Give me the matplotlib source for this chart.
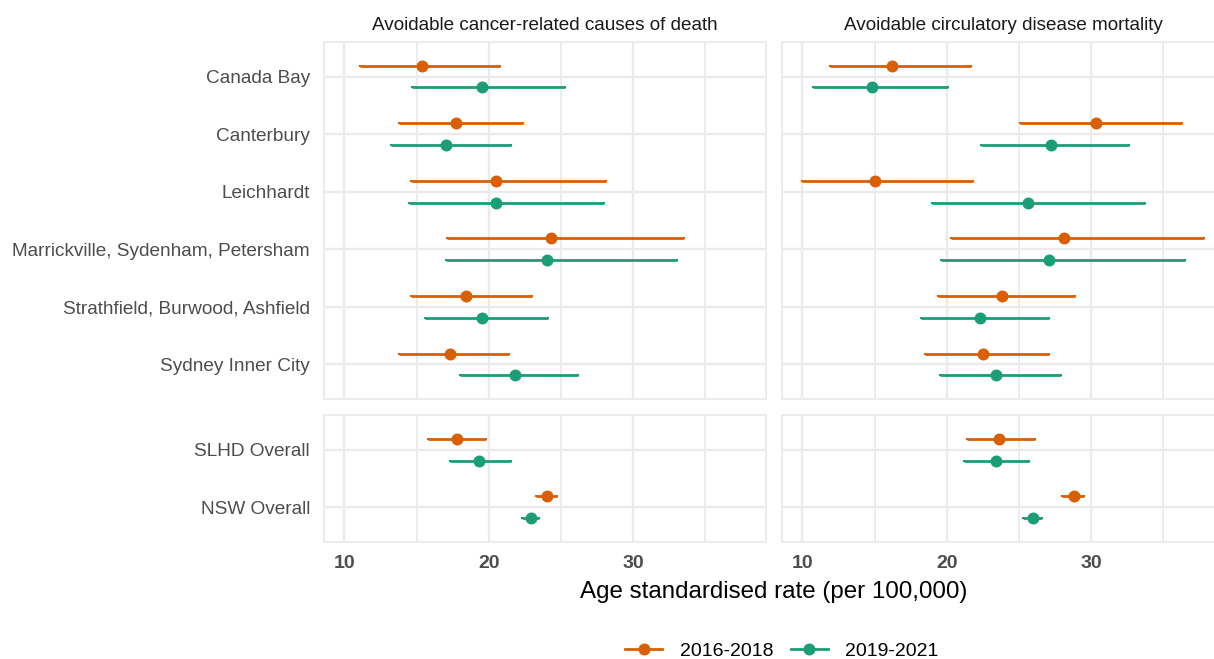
import numpy as np
import matplotlib.pyplot as plt
from matplotlib.lines import Line2D

plt.rcParams['font.family'] = ['Liberation Sans', 'DejaVu Sans']

areas = ['Canada Bay', 'Canterbury', 'Leichhardt', 'Marrickville, Sydenham, Petersham',
         'Strathfield, Burwood, Ashfield', 'Sydney Inner City']
overall = ['SLHD Overall', 'NSW Overall']
periods = ['2016-2018', '2019-2021']
colors = ['#D95F02', '#1B9E77']
panels = ['Avoidable cancer-related causes of death', 'Avoidable circulatory disease mortality']

# rates for the six areas followed by SLHD and NSW
cancer_1618 = [15.4, 17.7, 20.5, 24.3, 18.4, 17.3, 17.8, 24.0]
cancer_1618_lo = [11.1, 13.8, 14.6, 17.1, 14.6, 13.8, 15.8, 23.3]
cancer_1618_hi = [20.8, 22.4, 28.1, 33.5, 23.0, 21.4, 19.8, 24.7]

cancer_1921 = [19.5, 17.0, 20.5, 24.0, 19.5, 21.8, 19.3, 22.9]
cancer_1921_lo = [14.7, 13.2, 14.5, 17.0, 15.6, 18.0, 17.3, 22.3]
cancer_1921_hi = [25.3, 21.5, 28.0, 33.0, 24.1, 26.2, 21.5, 23.5]

circ_1618 = [16.2, 30.3, 15.0, 28.1, 23.8, 22.5, 23.6, 28.8]
circ_1618_lo = [11.9, 25.1, 10.0, 20.3, 19.4, 18.5, 21.4, 28.0]
circ_1618_hi = [21.7, 36.3, 21.8, 37.8, 28.9, 27.1, 26.1, 29.5]

circ_1921 = [14.8, 27.2, 25.6, 27.1, 22.3, 23.4, 23.4, 26.0]
circ_1921_lo = [10.7, 22.4, 19.0, 19.6, 18.2, 19.5, 21.2, 25.3]
circ_1921_hi = [20.1, 32.6, 33.7, 36.5, 27.1, 27.9, 25.7, 26.6]

series = [
    [(cancer_1618, cancer_1618_lo, cancer_1618_hi), (cancer_1921, cancer_1921_lo, cancer_1921_hi)],
    [(circ_1618, circ_1618_lo, circ_1618_hi), (circ_1921, circ_1921_lo, circ_1921_hi)],
]

W, H = 1214, 659
fig = plt.figure(figsize=(W / 100, H / 100), dpi=100)


def px_axes(x0, y0, x1, y1):
    return fig.add_axes([x0 / W, 1 - y1 / H, (x1 - x0) / W, (y1 - y0) / H])


grid_col = '#EBEBEB'
xlim = (8.58, 39.2)
dodge = 0.19
cols = [(324, 766), (782, 1224)]
rows = [(42, 399, areas, slice(0, 6)), (415, 542, overall, slice(6, 8))]

for c, (x0, x1) in enumerate(cols):
    for r, (y0, y1, labels, sl) in enumerate(rows):
        ax = px_axes(x0, y0, x1, y1)
        n = len(labels)
        ypos = np.arange(1, n + 1)
        for k, (rate, lo, hi) in enumerate(series[c]):
            rate = np.array(rate[sl])
            lo = np.array(lo[sl])
            hi = np.array(hi[sl])
            off = -dodge if k == 0 else dodge
            ax.errorbar(rate, ypos + off, xerr=[rate - lo, hi - rate], fmt='o',
                        color=colors[k], ms=7.6, elinewidth=2.0, capsize=0.7,
                        capthick=1.5, zorder=3)
        ax.set_xlim(*xlim)
        ax.set_ylim(n + 0.6, 0.4)
        ax.set_yticks(ypos)
        ax.set_xticks([10, 20, 30])
        ax.set_xticks([15, 25, 35], minor=True)
        ax.grid(True, which='major', color=grid_col, lw=1.7, zorder=0)
        ax.grid(True, which='minor', axis='x', color=grid_col, lw=1.3, zorder=0)
        ax.set_axisbelow(True)
        ax.tick_params(which='both', length=0)
        for s in ax.spines.values():
            s.set_color(grid_col)
            s.set_linewidth(1.3)
        if c == 0:
            ax.set_yticklabels(labels, fontsize=13.7, color='#4D4D4D')
            ax.tick_params(axis='y', pad=10)
        else:
            ax.set_yticklabels([])
        if r == 1:
            ax.set_xticklabels(['10', '20', '30'], fontsize=14, fontweight='bold',
                               color='#4D4D4D')
            ax.tick_params(axis='x', pad=9)
        else:
            ax.set_xticklabels([])
            ax.set_title(panels[c], fontsize=13.6, color='#1A1A1A', pad=9)

fig.text(774 / W, 1 - 592 / H, 'Age standardised rate (per 100,000)', fontsize=17.4,
         ha='center', va='center', color='black')

handles = [Line2D([0], [0], color=colors[k], lw=2.0, marker='o', ms=7.6) for k in range(2)]
fig.legend(handles, periods, loc='center', bbox_to_anchor=(782 / W, 1 - 651 / H), ncol=2,
           frameon=False, fontsize=14, handlelength=1.9, handletextpad=0.9, columnspacing=0.9)

fig.savefig('out.png', dpi=100)
